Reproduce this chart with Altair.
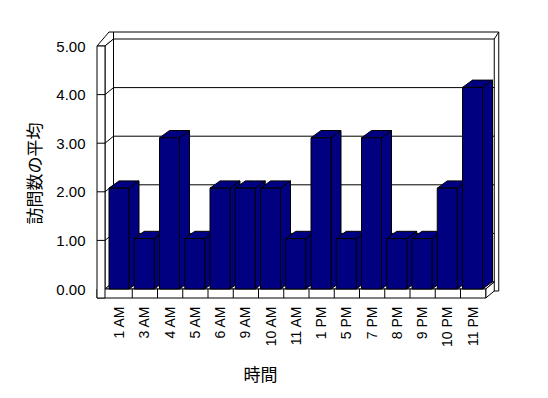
import numpy as np
import pandas as pd
import altair as alt

# ---------------- data ----------------
hours = ["1 AM", "3 AM", "4 AM", "5 AM", "6 AM", "9 AM", "10 AM", "11 AM",
         "1 PM", "5 PM", "7 PM", "8 PM", "9 PM", "10 PM", "11 PM"]
avg_visits = [2, 1, 3, 1, 2, 2, 2, 1, 3, 1, 3, 1, 1, 2, 4]
y_tick_values = [0, 1, 2, 3, 4, 5]
grid_levels = [1, 2, 3, 4]

# ---------------- layout / style ----------------
NAVY = "#000080"
CAT_PX = 25.25      # px per category
GRID_PX = 48.6      # px per unit on the wall / axis
BAR_PX = 50.4       # px per unit for the (front) bars
PLOT_W, PLOT_H = 413, 280
ORIGIN_X, ORIGIN_Y = 10, 269


def ux(px):
    return px / CAT_PX


def uy(px):
    return px / GRID_PX


def uby(px):
    return px / BAR_PX


X_DOMAIN = [-ORIGIN_X / CAT_PX, (PLOT_W - ORIGIN_X) / CAT_PX]
FRAME_DOMAIN = [-(PLOT_H - ORIGIN_Y) / GRID_PX, ORIGIN_Y / GRID_PX]
BAR_DOMAIN = [-(PLOT_H - ORIGIN_Y) / BAR_PX, ORIGIN_Y / BAR_PX]


def xs():
    return alt.Scale(domain=X_DOMAIN, nice=False, zero=False)


def fys():
    return alt.Scale(domain=FRAME_DOMAIN, nice=False, zero=False)


def bys():
    return alt.Scale(domain=BAR_DOMAIN, nice=False, zero=False)


N = len(hours)
TOP = max(y_tick_values)
LEFT_IN = -ux(2)
LEFT_OUT = LEFT_IN - ux(8)
DX, DY = ux(8.5), uy(7)
FLOOR_T = uy(9)
SLAB_X, SLAB_Y = ux(4.5), uy(7)
CORNER_X = LEFT_OUT + ux(12)


def poly(lower, upper):
    xv = sorted(set([p[0] for p in lower] + [p[0] for p in upper]))
    lx, ly = zip(*lower)
    hx, hy = zip(*upper)
    return pd.DataFrame({"x": xv, "y": np.interp(xv, lx, ly), "y2": np.interp(xv, hx, hy)})


def face(df, fill="white", bar=False, detail=None):
    enc = dict(
        x=alt.X("x:Q", scale=xs(), axis=None),
        y=alt.Y("y:Q", scale=bys() if bar else fys(), axis=None),
        y2=alt.Y2("y2"),
    )
    if detail:
        enc["detail"] = detail
    return alt.Chart(df).mark_area(orient="vertical", fill=fill, stroke="black",
                                   strokeWidth=1, strokeJoin="miter", opacity=1).encode(**enc)


def rect(x0, x1, y0, y1, fill="white", y_axis=None):
    df = pd.DataFrame({"x": [x0], "x2": [x1], "y": [y0], "y2": [y1]})
    return alt.Chart(df).mark_rect(fill=fill, stroke="black", strokeWidth=1).encode(
        x=alt.X("x:Q", scale=xs(), axis=None),
        x2=alt.X2("x2"),
        y=alt.Y("y:Q", scale=fys(), axis=y_axis),
        y2=alt.Y2("y2"),
    )


def segs(rows):
    return alt.Chart(pd.DataFrame(rows)).mark_rule(color="black", strokeWidth=1).encode(
        x=alt.X("x:Q", scale=xs(), axis=None),
        x2=alt.X2("x2"),
        y=alt.Y("y:Q", scale=fys(), axis=None),
        y2=alt.Y2("y2"),
    )


x_axis = alt.Axis(
    orient="bottom",
    labelAngle=270, labelAlign="right", labelBaseline="middle",
    ticks=False, domain=False, grid=False, labelPadding=6,
    labelFontSize=14, labelFont="Liberation Sans", labelColor="black",
    labelOverlap=False,
    title="時間", titleX=163, titleY=75, titleBaseline="middle", titleAlign="center",
    titleFont="Noto Sans CJK JP", titleFontSize=17, titleFontWeight="normal", titleColor="black",
)
y_axis = alt.Axis(
    values=y_tick_values, format=".2f",
    ticks=False, domain=False, grid=False, labelPadding=12,
    labelFontSize=15, labelFont="Liberation Sans", labelColor="black",
    title="訪問数の平均", titleX=-62, titleY=153, titleAngle=270,
    titleBaseline="middle", titleAlign="center",
    titleFont="Noto Sans CJK JP", titleFontSize=17, titleFontWeight="normal", titleColor="black",
)

# ---------------- frame (walls & floor) ----------------
slab = rect(LEFT_IN + DX, N + DX + SLAB_X, DY - FLOOR_T, TOP + DY + SLAB_Y, y_axis=y_axis)
back_inner = rect(LEFT_IN + DX, N + DX, DY, TOP + DY)
corner = segs([{"x": N + DX, "x2": N + DX + SLAB_X, "y": TOP + DY, "y2": TOP + DY + SLAB_Y}])
left_top = face(poly([(LEFT_OUT, TOP), (LEFT_IN, TOP), (LEFT_IN + DX, TOP + DY)],
                     [(LEFT_OUT, TOP), (CORNER_X, TOP + DY + SLAB_Y), (LEFT_IN + DX, TOP + DY + SLAB_Y)]))
left_inner = face(poly([(LEFT_IN, 0), (LEFT_IN + DX, DY)],
                       [(LEFT_IN, TOP), (LEFT_IN + DX, TOP + DY)]))
floor_top = face(poly([(LEFT_IN, 0), (N, 0), (N + DX, DY)],
                      [(LEFT_IN, 0), (LEFT_IN + DX, DY), (N + DX, DY)]))
floor_right = face(poly([(N, -FLOOR_T), (N + DX, DY - FLOOR_T)],
                        [(N, 0), (N + DX, DY)]))
floor_front = rect(LEFT_OUT, N, -FLOOR_T, 0)
left_front = rect(LEFT_OUT, LEFT_IN, -FLOOR_T, TOP)
dividers = segs([{"x": k, "x2": k, "y": -FLOOR_T, "y2": 0} for k in range(1, N)])

grid_rows = []
for w in grid_levels:
    pts = [(LEFT_OUT, w), (LEFT_IN, w), (LEFT_IN + DX, w + DY), (N + DX, w + DY)]
    for (a, b), (c, d) in zip(pts[:-1], pts[1:]):
        grid_rows.append({"x": a, "x2": c, "y": b, "y2": d})
gridlines = segs(grid_rows)

# ---------------- 3-D bars ----------------
L, R = ux(2), ux(22)
BDX, BDY = ux(10), uby(7.3)
side_rows, top_rows, front_rows = [], [], []
for i, v in enumerate(avg_visits):
    xl, xr = i + L, i + R
    side_rows += [{"bar": i, "x": xr, "y": 0, "y2": v},
                  {"bar": i, "x": xr + BDX, "y": BDY, "y2": v + BDY}]
    top_rows += [{"bar": i, "x": xl, "y": v, "y2": v},
                 {"bar": i, "x": xl + BDX, "y": v, "y2": v + BDY},
                 {"bar": i, "x": xr, "y": v, "y2": v + BDY},
                 {"bar": i, "x": xr + BDX, "y": v + BDY, "y2": v + BDY}]
    front_rows.append({"hour": hours[i], "x": xl, "x2": xr, "v": v, "zero": 0})

sides = face(pd.DataFrame(side_rows), fill=NAVY, bar=True, detail="bar:N")
tops = face(pd.DataFrame(top_rows), fill=NAVY, bar=True, detail="bar:N")
fronts = alt.Chart(pd.DataFrame(front_rows)).mark_rect(fill=NAVY, stroke="black", strokeWidth=1).encode(
    x=alt.X("x:Q", scale=xs(), axis=None),
    x2=alt.X2("x2"),
    y=alt.Y("v:Q", scale=bys(), axis=None),
    y2=alt.Y2("zero"),
)

# category axis (hour labels) on its own point scale aligned with the bars
labels = alt.Chart(pd.DataFrame(front_rows)).mark_point(opacity=0).encode(
    x=alt.X("hour:N", sort=hours, axis=x_axis,
            scale=alt.Scale(type="point", domain=hours, padding=0.5,
                            range=[ORIGIN_X, ORIGIN_X + N * CAT_PX])),
    y=alt.Y("v:Q", scale=bys(), axis=None),
)

chart = alt.layer(
    slab, back_inner, corner, left_top, left_inner, floor_top, floor_right,
    floor_front, left_front, dividers, gridlines, sides, tops, fronts, labels,
).resolve_scale(x="independent", y="independent").properties(
    width=PLOT_W, height=PLOT_H,
    padding={"left": 97, "top": 20, "right": 38, "bottom": 98},
    autosize=alt.AutoSizeParams(type="none"),
    background="white",
).configure_view(strokeWidth=0)

chart.save("out.html", embed_options={"renderer": "svg", "actions": False})
